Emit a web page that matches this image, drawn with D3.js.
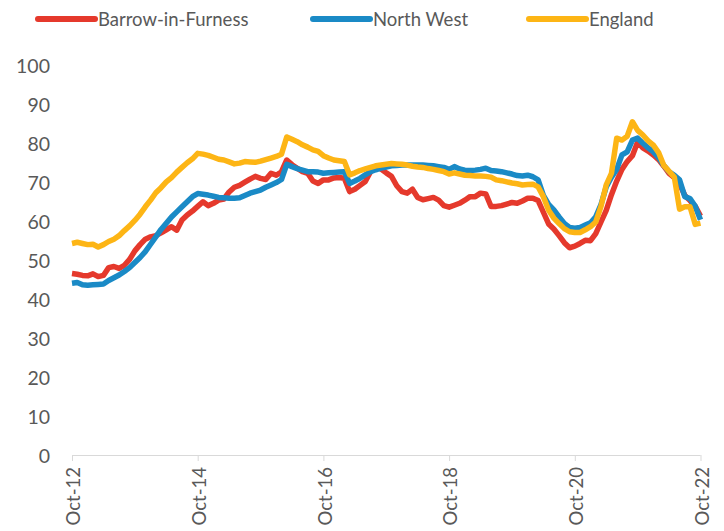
<!DOCTYPE html>
<html><head><meta charset="utf-8">
<script src="https://cdn.jsdelivr.net/npm/d3@7"></script>
<style>
html,body{margin:0;padding:0;background:#fff;overflow:hidden}
text{font-family:Lato,"Open Sans",sans-serif;fill:#595959}
</style></head>
<body><svg id="chart" width="724" height="531"></svg>
<script>
const seriesNames = ["Barrow-in-Furness", "North West", "England"];
const seriesColors = ["#e5392c", "#1a8ac6", "#fdb515"];
const tickLabels = ["Oct-12","Oct-14","Oct-16","Oct-18","Oct-20","Oct-22"];
const yTicks = [0,10,20,30,40,50,60,70,80,90,100];
// monthly, Oct-12 .. Oct-22
const barrow = [46.8,46.6,46.3,46.2,46.7,46.0,46.3,48.3,48.6,48.1,48.9,50.4,52.6,54.2,55.6,56.2,56.5,57.2,58.0,58.8,
57.9,60.5,61.8,62.8,64.0,65.2,64.2,64.8,65.6,65.9,67.7,68.9,69.4,70.2,71.0,71.7,71.2,70.9,72.5,72.0,
72.9,75.9,74.7,73.8,72.9,72.5,70.5,69.9,70.8,70.8,71.3,71.4,71.2,67.8,68.4,69.4,70.4,72.9,74.3,73.6,
72.6,71.7,69.3,67.8,67.4,68.4,66.3,65.7,66.0,66.3,65.6,64.2,63.8,64.3,64.8,65.6,66.5,66.5,67.4,67.2,
64.0,64.0,64.2,64.6,65.0,64.8,65.4,66.1,66.1,65.5,62.5,59.5,58.2,56.5,54.7,53.4,53.8,54.5,55.3,55.2,
57.0,60.0,63.0,67.0,70.5,73.5,75.5,77.0,80.5,79.0,78.2,77.2,76.0,74.3,72.5,71.4,69.8,66.8,65.5,64.0,61.5];
const northWest = [44.3,44.5,43.9,43.8,43.9,44.0,44.1,45.0,45.7,46.4,47.3,48.3,49.6,50.9,52.4,54.3,56.2,58.1,59.7,61.3,
62.6,63.9,65.2,66.5,67.3,67.1,66.9,66.6,66.3,66.2,66.1,66.1,66.2,66.8,67.4,67.8,68.2,68.9,69.5,70.1,
70.9,74.8,74.2,73.7,73.3,72.9,72.9,72.8,72.5,72.6,72.7,72.8,72.9,69.9,70.5,71.2,72.1,72.9,73.4,73.8,
74.1,74.4,74.5,74.6,74.6,74.6,74.6,74.6,74.5,74.4,74.2,74.0,73.5,74.2,73.6,73.3,73.2,73.3,73.5,73.8,
73.2,73.1,72.9,72.6,72.3,71.9,71.8,72.0,71.6,70.8,66.8,64.5,63.1,61.3,59.6,58.6,58.4,58.6,59.2,59.8,
61.3,64.5,69.0,71.5,73.5,77.2,78.0,81.0,81.5,80.2,79.0,78.0,76.5,74.5,72.9,72.0,70.8,66.5,66.0,64.0,60.6];
const england = [54.5,54.8,54.5,54.2,54.3,53.6,54.2,55.0,55.6,56.5,57.8,59.0,60.4,62.0,63.9,65.6,67.5,68.8,70.3,71.4,
72.8,74.0,75.2,76.2,77.6,77.4,77.1,76.6,76.1,75.9,75.4,74.9,75.1,75.5,75.4,75.3,75.6,76.0,76.4,76.8,
77.4,81.8,81.2,80.6,79.8,79.2,78.5,78.1,77.0,76.4,75.9,75.7,75.5,72.1,72.6,73.2,73.6,74.0,74.4,74.6,
74.8,75.0,74.9,74.8,74.6,74.3,74.1,74.0,73.7,73.5,73.2,72.9,72.3,72.6,72.3,72.0,71.9,71.8,71.8,71.7,
71.5,70.8,70.6,70.3,70.0,69.8,69.5,69.6,69.7,69.0,66.5,63.0,61.0,59.6,58.3,57.5,57.3,57.3,58.0,58.8,
60.0,64.0,69.5,72.5,81.5,81.0,82.0,85.7,83.5,82.3,80.8,79.7,77.8,74.5,73.0,71.5,63.3,63.9,63.9,59.4,59.7];

const fmt = d3.timeFormat("%b-%y");
const months = d3.timeMonth.range(new Date(2012,9,1), new Date(2022,10,1)).map(fmt);
const svg = d3.select("#chart");
const x = d3.scalePoint().domain(months).range([72, 700.5]).padding(0);
const y = d3.scaleLinear().domain([0,100]).range([456, 66]);

// y labels
svg.append("g").selectAll("text").data(yTicks).join("text")
  .attr("x", 50).attr("y", d => y(d)).attr("dy","0.36em")
  .attr("text-anchor","end").style("font-size","19.5px").text(d => d);

// x axis
const xAxis = d3.axisBottom(x).tickValues(tickLabels).tickSize(6).tickFormat("");
const gx = svg.append("g").attr("transform","translate(0,455)").call(xAxis);
gx.select(".domain").attr("stroke","#d9d9d9").attr("d","M72,0.5H700.5");
gx.selectAll(".tick line").attr("stroke","#d9d9d9");
svg.append("g").selectAll("text").data(tickLabels).join("text")
  .attr("transform", d => `translate(${x(d)},467) rotate(-90)`)
  .attr("text-anchor","end").attr("dy","0.45em")
  .style("font-size","18.5px").text(d => d);

// lines
const data = [barrow, northWest, england];
const line = d3.line().x((d,i) => x(months[i])).y(d => y(d));
svg.append("g").selectAll("path").data(data).join("path")
  .attr("d", line).attr("fill","none")
  .attr("stroke",(d,i)=>seriesColors[i]).attr("stroke-width",5.5)
  .attr("stroke-linejoin","round").attr("stroke-linecap","butt");

// legend
const legX = [38, 313, 529];
const lg = svg.append("g").selectAll("g").data(seriesNames).join("g")
  .attr("transform",(d,i)=>`translate(${legX[i]},19)`);
lg.append("line").attr("x1",0).attr("x2",57).attr("y1",0).attr("y2",0)
  .attr("stroke",(d,i)=>seriesColors[i]).attr("stroke-width",6).attr("stroke-linecap","round");
lg.append("text").attr("x",60).attr("dy","0.36em").style("font-size","18.5px").text(d=>d);
</script></body></html>
